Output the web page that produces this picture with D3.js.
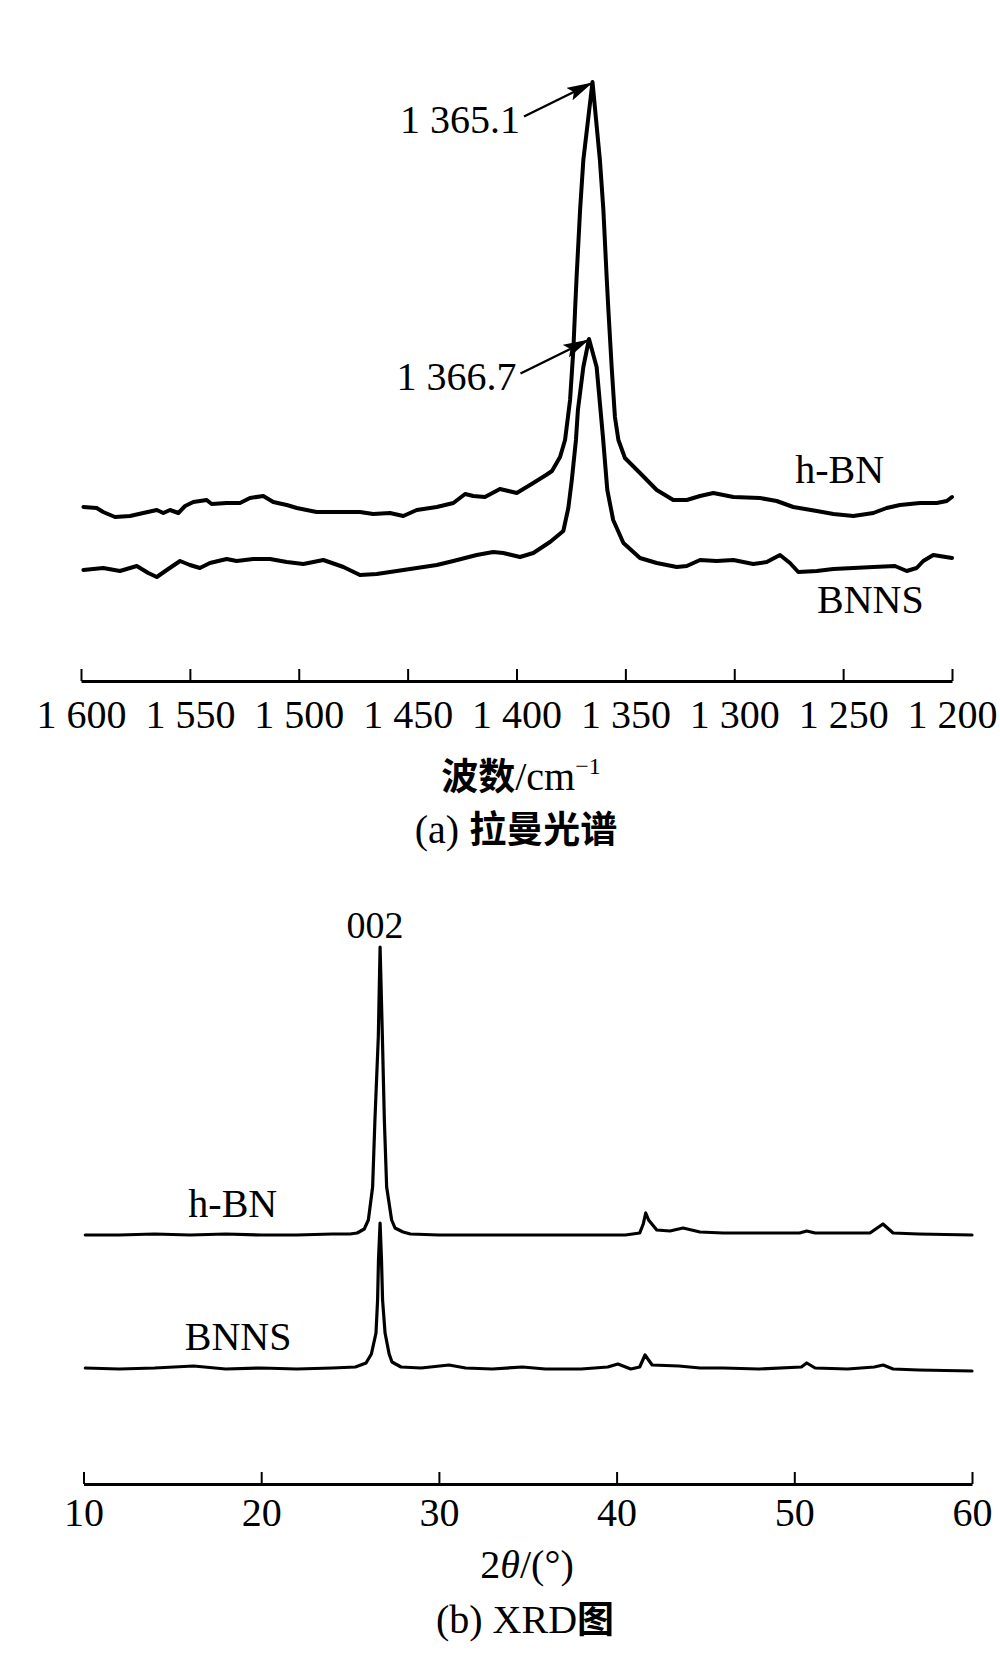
<!DOCTYPE html>
<html><head><meta charset="utf-8">
<script src="https://cdn.jsdelivr.net/npm/d3@7/dist/d3.min.js"></script>
<style>body{margin:0;background:#fff}svg{display:block}</style>
</head><body>
<svg id="c" width="1000" height="1667"></svg>
<script>
// ---------- Panel (a) Raman ----------
const ramanTicks = [1600,1550,1500,1450,1400,1350,1300,1250,1200];
const ramanTickLabels = ["1 600","1 550","1 500","1 450","1 400","1 350","1 300","1 250","1 200"];

const ramanHBN_wn = [1598.9,1592.8,1589.8,1584.4,1577.5,1571.4,1565.2,1562.2,1559.1,1555.3,1552.2,1548.4,1542.3,1540.0,1533.1,1527.0,1522.4,1516.3,1511.7,1505.5,1500.9,1491.8,1482.6,1471.9,1465.8,1458.1,1452.0,1445.8,1436.6,1429.0,1423.6,1419.8,1414.5,1407.6,1399.9,1393.8,1386.4,1383.7,1380.0,1377.7,1375.4,1373.9,1373.1,1372.4,1370.8,1369.3,1365.1,1361.7,1360.1,1358.6,1357.8,1356.3,1354.8,1353.2,1350.2,1343.3,1335.6,1328.0,1321.8,1315.7,1309.6,1300.4,1288.2,1280.5,1272.9,1262.1,1254.5,1245.3,1236.1,1230.0,1223.9,1214.7,1207.0,1202.4,1200];
const ramanHBN_I  = [33,32,28,23,24,27,30,27,30,27,34,38,40,36,37,37,42,44,38,35,32,28,28,28,26,27,24,30,33,37,46,44,43,51,47,55,65,69,83,100,140,190,230,263,330,380,458,380,330,263,230,173,123,100,82,67,50,40,40,44,47,43,42,39,33,29,26,24,27,32,35,37,37,39,43];

const ramanBNNS_wn = [1598.9,1589.8,1582.1,1574.4,1569.1,1565.2,1560.6,1554.5,1550.0,1545.4,1540.8,1533.1,1528.5,1520.9,1513.2,1505.5,1497.9,1488.7,1479.5,1471.9,1464.2,1455.0,1445.8,1436.6,1429.0,1418.3,1410.7,1406.1,1398.4,1392.3,1384.6,1378.5,1376.2,1374.6,1372.7,1371.8,1369.3,1366.7,1363.2,1360.3,1358.3,1355.6,1350.9,1343.3,1335.6,1326.4,1321.8,1315.7,1308.1,1300.4,1291.3,1285.1,1279.0,1274.4,1270.6,1262.1,1254.5,1245.3,1236.1,1226.2,1220.8,1216.2,1213.2,1208.6,1200];
const ramanBNNS_I  = [30,32,29,34,27,23,30,39,35,32,37,41,39,41,41,38,36,40,33,25,26,29,32,35,39,45,48,47,43,47,58,69,92,120,160,190,233,261,233,163,110,80,57,42,37,33,34,40,39,40,36,38,45,37,28,29,31,32,33,34,29,32,39,45,42];

const ramanOffsets = [100, 40]; // stacking offsets (a.u.) for h-BN, BNNS
const ramanPeaks = [1365.1, 1366.7];
const ramanPeakLabels = ["1 365.1", "1 366.7"];

// ---------- Panel (b) XRD ----------
const xrdTicks = [10,20,30,40,50,60];
const xrdTickLabels = ["10","20","30","40","50","60"];

const xrdHBN_t = [10.1,12,14,16,18,20,22,24,25.0,25.4,25.8,26.03,26.27,26.40,26.59,26.69,26.82,26.93,27.06,27.34,27.53,27.98,28.4,30,32,35,38,40.5,41.3,41.5,41.64,41.8,42.26,43,43.74,44.69,46,48,50.3,50.7,51.17,53,54.26,54.99,55.56,57,60];
const xrdHBN_I = [1,1,2,1,2,1,1,2,2,3,7,16,49,116,199,289,199,116,49,16,8,4,2,1,1,1,1,1,3,12,23,16,6,5,8,4,3,3,3,5,3,3,3,12,3,2,1];

const xrdBNNS_t = [10.1,12,14,16.2,18,20,22,24,25.3,25.9,26.2,26.46,26.55,26.60,26.69,26.77,26.83,26.97,27.2,27.36,27.87,29,30.57,31.5,33,34.7,36,38,39.5,40.07,40.8,41.3,41.6,42.0,43.5,44.7,46,48,50.4,50.7,51.17,53,54.5,55.0,55.56,57,60];
const xrdBNNS_I = [1,0,1,3,0,1,0,1,2,6,15,36,69,109,146,109,69,36,15,7,2,1,4,1,0,2,0,0,2,5,0,2,14,4,3,1,1,0,2,6,1,0,2,4,0,-1,-2];

const xrdOffsets = [164, 31];

// ---------- drawing ----------
const svg = d3.select("#c");
const serif = "'Liberation Serif','Times New Roman',serif";
const cjk = "'Noto Sans CJK SC','Noto Sans CJK JP',sans-serif";

const xR = d3.scaleLinear().domain([1600,1200]).range([81,952]);
const yR = d3.scaleLinear().domain([0,600]).range([640,40]);
const xX = d3.scaleLinear().domain([10,60]).range([83.5,972]);
const yX = d3.scaleLinear().domain([0,450]).range([1400,950]);

function drawAxis(g, scale, ticks, labels, pad) {
  const ax = d3.axisBottom(scale).tickValues(ticks)
    .tickFormat((d,i)=>labels[i]).tickSizeInner(-12).tickSizeOuter(0).tickPadding(pad);
  g.call(ax);
  g.select(".domain").attr("stroke","#000").attr("stroke-width",3);
  g.selectAll(".tick line").attr("stroke","#000").attr("stroke-width",2);
  g.selectAll(".tick text").attr("font-family",serif).attr("font-size",40).attr("fill","#000");
}

drawAxis(svg.append("g").attr("transform","translate(0,681)"), xR, ramanTicks, ramanTickLabels, 19);
drawAxis(svg.append("g").attr("transform","translate(0,1484)"), xX, xrdTicks, xrdTickLabels, 14);

const lineR = (off) => d3.line().x(d=>xR(d[0])).y(d=>yR(d[1]+off));
const lineX = (off) => d3.line().x(d=>xX(d[0])).y(d=>yX(d[1]+off));

const ramanSeries = [d3.zip(ramanHBN_wn, ramanHBN_I), d3.zip(ramanBNNS_wn, ramanBNNS_I)];
ramanSeries.forEach((s,i)=>{
  svg.append("path").attr("d", lineR(ramanOffsets[i])(s))
    .attr("fill","none").attr("stroke","#000").attr("stroke-width",4)
    .attr("stroke-linejoin","round").attr("stroke-linecap","round");
});

const xrdSeries = [d3.zip(xrdHBN_t, xrdHBN_I), d3.zip(xrdBNNS_t, xrdBNNS_I)];
xrdSeries.forEach((s,i)=>{
  svg.append("path").attr("d", lineX(xrdOffsets[i])(s))
    .attr("fill","none").attr("stroke","#000").attr("stroke-width",3.2)
    .attr("stroke-linejoin","round").attr("stroke-linecap","round");
});

svg.append("defs").append("marker").attr("id","ah")
  .attr("markerUnits","userSpaceOnUse").attr("markerWidth",26).attr("markerHeight",14)
  .attr("refX",24).attr("refY",7).attr("orient","auto")
  .append("path").attr("d","M0,0 L26,7 L0,14 L5,7 Z").attr("fill","#000");

ramanPeaks.forEach((wn,i)=>{
  const s = ramanSeries[i];
  const pk = s.find(d=>d[0]===wn);
  const tx = xR(wn) - 1.5, ty = yR(pk[1] + ramanOffsets[i]) + 1.5;
  const sx = tx - 67, sy = ty + 33;
  svg.append("line").attr("x1",sx).attr("y1",sy).attr("x2",tx).attr("y2",ty)
    .attr("stroke","#000").attr("stroke-width",2.5).attr("marker-end","url(#ah)");
  svg.append("text").attr("x",sx-4).attr("y",sy+16).attr("text-anchor","end")
    .attr("font-family",serif).attr("font-size",40).text(ramanPeakLabels[i]);
});

function label(x,y,t){
  svg.append("text").attr("x",x).attr("y",y).attr("font-family",serif).attr("font-size",40).text(t);
}
label(xR(1272), yR(157), "h-BN");
label(xR(1262), yR(27), "BNNS");
label(xX(15.9), yX(183), "h-BN");
label(xX(15.7), yX(50), "BNNS");

const hbnPeakIdx = xrdHBN_I.indexOf(d3.max(xrdHBN_I));
svg.append("text").attr("x", xX(xrdHBN_t[hbnPeakIdx])-5).attr("y", yX(xrdHBN_I[hbnPeakIdx]+xrdOffsets[0])-9)
  .attr("text-anchor","middle").attr("font-family",serif).attr("font-size",38).text("002");

const t1 = svg.append("text").attr("x",521).attr("y",790).attr("text-anchor","middle").attr("font-size",40);
t1.append("tspan").attr("font-family",cjk).attr("font-weight",700).attr("font-size",37).text("波数");
t1.append("tspan").attr("font-family",serif).text("/cm");
t1.append("tspan").attr("font-family",serif).attr("font-size",24).attr("dy",-16).text("−1");

const c1 = svg.append("text").attr("x",516).attr("y",843).attr("text-anchor","middle").attr("font-size",40);
c1.append("tspan").attr("font-family",serif).text("(a) ");
c1.append("tspan").attr("font-family",cjk).attr("font-weight",700).attr("font-size",37).text("拉曼光谱");

const t2 = svg.append("text").attr("x",527).attr("y",1578).attr("text-anchor","middle").attr("font-size",40).attr("font-family",serif);
t2.append("tspan").text("2");
t2.append("tspan").attr("font-style","italic").text("θ");
t2.append("tspan").text("/(°)");

const c2 = svg.append("text").attr("x",525).attr("y",1633).attr("text-anchor","middle").attr("font-size",40);
c2.append("tspan").attr("font-family",serif).text("(b) XRD");
c2.append("tspan").attr("font-family",cjk).attr("font-weight",700).attr("font-size",37).text("图");
</script>
</body></html>
